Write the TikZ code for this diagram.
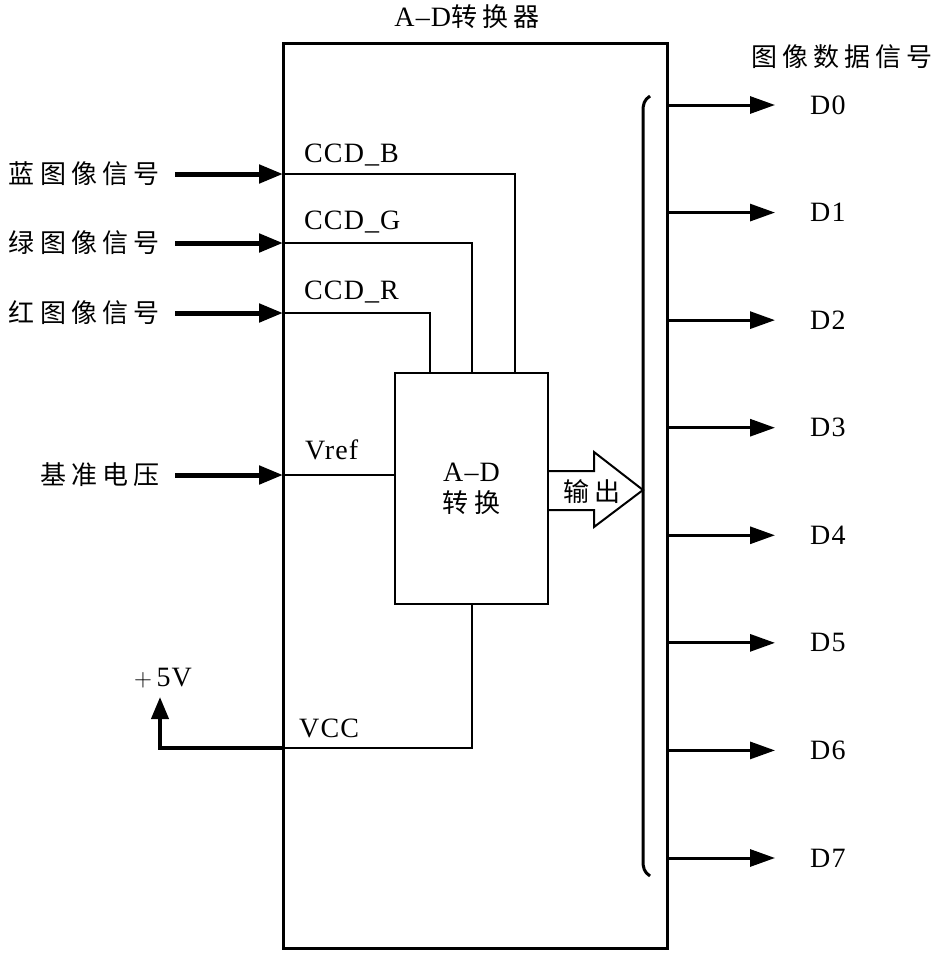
\documentclass[tikz,border=0pt]{standalone}
\usepackage{fontspec}
\setmainfont[LetterSpace=4]{Liberation Serif}
\newfontfamily\cjkfont[LetterSpace=20]{Noto Sans CJK SC}
\usetikzlibrary{arrows.meta}
\begin{document}
\begin{tikzpicture}[x=1pt,y=-1pt,
  lat/.style={font=\fontsize{28}{30}\selectfont, inner sep=0pt},
  zh/.style={font=\cjkfont\fontsize{26}{30}\selectfont, inner sep=0pt},
  wire/.style={line width=2pt},
  inarrow/.style={line width=5pt, -{Triangle[length=24pt,width=18pt]}},
  darrow/.style={line width=3pt, -{Triangle[length=25pt,width=17pt]}},
  uparrow/.style={line width=4pt, -{Triangle[length=22pt,width=17pt]}},
]
\useasboundingbox (0,0) rectangle (934,953);

% outer converter box
\node[draw, line width=3pt, minimum width=384pt, minimum height=905pt, inner sep=0pt] (adconv) at (475,495.5) {};
\node[lat] (title) at (467,17) {A–D{\cjkfont\fontsize{26}{30}\selectfont 转换器}};

% inner A-D core
\node[draw, line width=2pt, minimum width=153pt, minimum height=231pt, inner sep=0pt, align=center, lat] (core) at (471.5,488.5)
  {A–D\\[1pt]{\cjkfont\fontsize{26}{30}\selectfont 转换}};

% inputs
\coordinate (bIn) at (283,174);
\coordinate (gIn) at (283,243);
\coordinate (rIn) at (283,313);
\coordinate (vIn) at (283,475);
\coordinate (bSrc) at (175,174);
\coordinate (gSrc) at (175,243);
\coordinate (rSrc) at (175,313);
\coordinate (vSrc) at (175,475);

\node[zh, anchor=east] (lb) at (160,174) {蓝图像信号};
\node[zh, anchor=east] (lg) at (160,243) {绿图像信号};
\node[zh, anchor=east] (lr) at (160,313) {红图像信号};
\node[zh, anchor=east] (lv) at (160,475) {基准电压};

\draw[inarrow] (bSrc) -- (bIn);
\draw[inarrow] (gSrc) -- (gIn);
\draw[inarrow] (rSrc) -- (rIn);
\draw[inarrow] (vSrc) -- (vIn);

\draw[wire] (bIn) -| ([xshift=43.5pt]core.north);
\draw[wire] (gIn) -| (core.north);
\draw[wire] (rIn) -| ([xshift=-41.5pt]core.north);
\draw[wire] (vIn) -- (vIn -| core.west);

\node[lat, anchor=west] (ccdb) at (304,155) {CCD\_B};
\node[lat, anchor=west] (ccdg) at (304,222) {CCD\_G};
\node[lat, anchor=west] (ccdr) at (304,292) {CCD\_R};
\node[lat, anchor=west] (vref) at (305,450) {Vref};

% power
\coordinate (vccJ) at (283,748);
\coordinate (plus5) at (160,697);
\draw[wire] (core.south) |- (vccJ);
\draw[uparrow] (vccJ) -| (plus5);
\node[lat, anchor=west] (vcc) at (299,728) {VCC};
\node[lat] (p5) at (163,678) {$+$\,5V};

% output arrow
\draw[wire] (core.east |- 0,471) -- (594,471) -- (594,452) -- (643,490) -- (594,527) -- (594,510) -- (core.east |- 0,510);
\node[zh] (outlbl) at (592,492) {输出};

% bracket
\draw[line width=3pt] (650,96) .. controls (644,100) and (643,104) .. (643,112) -- (643,860) .. controls (643,868) and (644,872) .. (650,876);

% data outputs
\node[zh] (dtitle) at (842,57) {图像数据信号};
\foreach \i in {0,...,7}{
  \pgfmathsetmacro{\yy}{105+\i*107.57}
  \coordinate (ds\i) at (667,\yy);
  \coordinate (de\i) at (775,\yy);
  \draw[darrow] (ds\i) -- (de\i);
  \node[lat, anchor=west] (dl\i) at (810,\yy) {D\i};
}
\end{tikzpicture}
\end{document}
